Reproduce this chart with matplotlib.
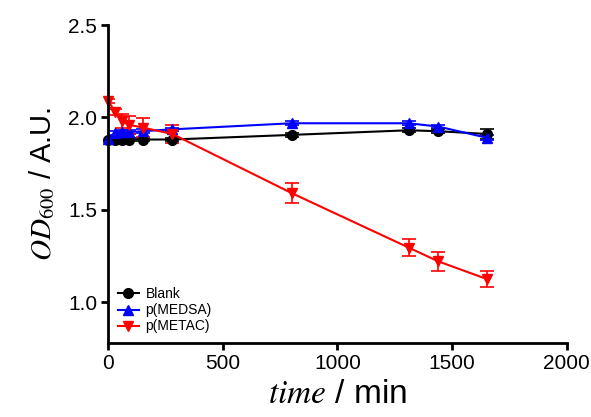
import numpy as np
import matplotlib.pyplot as plt

plt.rcParams['font.family'] = ['Liberation Sans', 'DejaVu Sans']
plt.rcParams['mathtext.fontset'] = 'stix'

# time points (min)
t_blank = [0, 30, 60, 90, 150, 280, 800, 1310, 1440, 1650]
od_blank = [1.88, 1.88, 1.88, 1.88, 1.88, 1.88, 1.905, 1.93, 1.925, 1.91]
err_blank = [0.01, 0.01, 0.01, 0.01, 0.01, 0.01, 0.01, 0.01, 0.01, 0.025]

t_medsa = [0, 30, 60, 90, 150, 280, 800, 1310, 1440, 1650]
od_medsa = [1.885, 1.915, 1.92, 1.92, 1.925, 1.935, 1.968, 1.968, 1.95, 1.89]
err_medsa = [0.01, 0.01, 0.01, 0.01, 0.01, 0.01, 0.01, 0.01, 0.01, 0.015]

t_metac = [0, 30, 60, 90, 150, 280, 800, 1310, 1440, 1650]
od_metac = [2.09, 2.03, 1.98, 1.96, 1.945, 1.91, 1.59, 1.295, 1.22, 1.125]
err_metac = [0.01, 0.015, 0.04, 0.05, 0.05, 0.05, 0.055, 0.045, 0.05, 0.045]

labels = ['Blank', 'p(MEDSA)', 'p(METAC)']

fig = plt.figure(figsize=(5.91, 4.17), dpi=100)
ax = fig.add_axes([0.183, 0.177, 0.776, 0.763])

kw = dict(lw=1.5, ms=7, capsize=5, elinewidth=1.2, capthick=1.2)
c1 = ax.errorbar(t_blank, od_blank, yerr=err_blank, color='black', marker='o', **kw)
c2 = ax.errorbar(t_medsa, od_medsa, yerr=err_medsa, color='blue', marker='^', **kw)
c3 = ax.errorbar(t_metac, od_metac, yerr=err_metac, color='red', marker='v', **kw)
for c in (c1, c2, c3):
    c[0].set_clip_on(False)

ax.set_xlim(0, 2000)
ax.set_ylim(0.777, 2.5)
ax.set_xticks([0, 500, 1000, 1500, 2000])
ax.set_yticks([1.0, 1.5, 2.0, 2.5])
ax.set_yticklabels(['1.0', '1.5', '2.0', '2.5'])

for s in ['top', 'right']:
    ax.spines[s].set_visible(False)
for s in ['left', 'bottom']:
    ax.spines[s].set_linewidth(2)
ax.tick_params(width=2, length=5, labelsize=15, direction='out', pad=3)

ax.set_xlabel(r'$\mathit{time}$ / min', fontsize=24, labelpad=4)
ax.set_ylabel(r'$OD_{600}$ / A.U.', fontsize=21, labelpad=8)

ax.legend([c1[0], c2[0], c3[0]], labels, loc='lower left', bbox_to_anchor=(0.0, 0.0),
          frameon=False, fontsize=10, handlelength=1.5, handletextpad=0.5,
          labelspacing=0.15, borderaxespad=0.3)

fig.savefig('out.png', dpi=100)
